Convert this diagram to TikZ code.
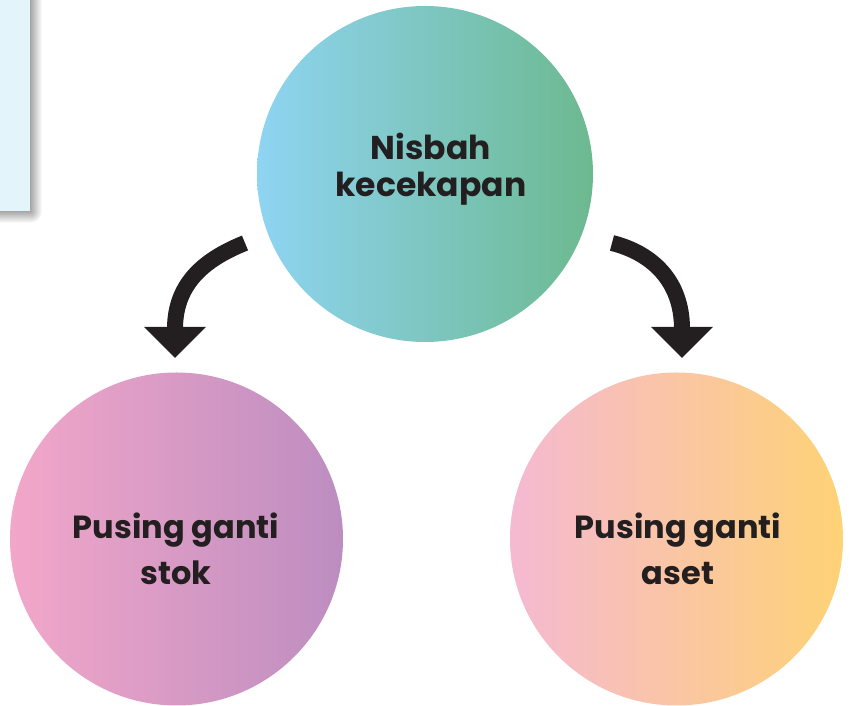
\documentclass[tikz,border=0pt]{standalone}
\usepackage{fontspec}
\setmainfont{Poppins}
\usetikzlibrary{arrows.meta}
\definecolor{txtc}{HTML}{231F20}
\definecolor{boxblue}{HTML}{E3F4FB}
\definecolor{tlA}{HTML}{8FD4F2}
\definecolor{tlB}{HTML}{6CB990}
\definecolor{lfA}{HTML}{F2A7C9}
\definecolor{lfB}{HTML}{BD8DC0}
\definecolor{rtA}{HTML}{F5B9D2}
\definecolor{rtB}{HTML}{FED276}
\definecolor{arrc}{HTML}{231F20}
\tikzset{
  bubble/.style={circle, inner sep=0pt, minimum size=#1, shading=axis, shading angle=90},
  txttop/.style={inner sep=0pt, align=center, text=txtc, font=\fontsize{33}{37}\selectfont\bfseries},
  txtbot/.style={inner sep=0pt, align=center, text=txtc, font=\fontsize{32}{46}\selectfont\bfseries},
  bentarrow/.style={draw=arrc, line width=16pt, -{Triangle[width=60pt,length=31pt]}}
}
\begin{document}
\begin{tikzpicture}[x=1pt,y=1pt]
\useasboundingbox (0,0) rectangle (852,706);
% partial box with shadow at top-left
\shade[left color=gray!70, right color=white] (30,495) rectangle (42,706);
\shade[top color=gray!70, bottom color=white] (0,483) rectangle (30,495);
\begin{scope}
  \clip (30,483) rectangle (42,495);
  \shade[inner color=gray!70, outer color=white] (30,495) circle (12);
\end{scope}
\fill[boxblue] (0,495) rectangle (30,706);
% circles
\node[bubble=336pt, left color=tlA, right color=tlB] (top) at (425,532) {};
\node[bubble=333pt, left color=lfA, right color=lfB] (left) at (176.5,167) {};
\node[bubble=333pt, left color=rtA, right color=rtB] (right) at (676.5,167) {};
% texts
\node[txttop] (ttop) at (431,537) {Nisbah\\kecekapan};
\node[txtbot] (tleft) at (176,157.5) {Pusing ganti\\stok};
\node[txtbot] (tright) at (678,157.5) {Pusing ganti\\aset};
% arrows
\coordinate (a1s) at (245,463);
\coordinate (a1e) at (175,348);
\coordinate (a2s) at (612,463);
\coordinate (a2e) at (682,348);
\draw[bentarrow] (a1s) .. controls (208,448) and (175,425) .. (a1e);
\draw[bentarrow] (a2s) .. controls (652,453) and (682,425) .. (a2e);
\end{tikzpicture}
\end{document}
